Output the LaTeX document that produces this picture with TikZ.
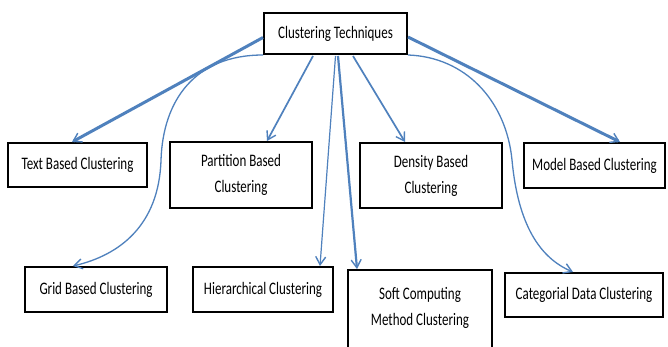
\documentclass[tikz,border=0pt]{standalone}
\usepackage{fontspec}
\setmainfont{Carlito}
\usetikzlibrary{arrows.meta,calc}
\definecolor{arrblue}{RGB}{79,129,189}
\newcommand{\tallt}[1]{\scalebox{1}[1.35]{#1}}
\tikzset{
  box/.style={draw=black, line width=2pt, fill=white, inner sep=0pt, align=center,
    font=\fontsize{13}{26}\selectfont},
  conn/.style={draw=arrblue, -{Straight Barb[length=8pt,width=10pt,line width=1.4pt]}},
  thick conn/.style={conn, line width=3pt},
  mid conn/.style={conn, line width=1.7pt},
  thin conn/.style={conn, line width=1.2pt},
}
\begin{document}
\begin{tikzpicture}[x=1pt,y=-1pt]
\useasboundingbox[fill=white] (0,0) rectangle (668,347);
\node[box, minimum width=143pt, minimum height=41pt] (ct) at (335.5,33.5) {\tallt{Clustering Techniques}};
\node[box, minimum width=139pt, minimum height=44pt] (tb) at (77.5,165) {\tallt{Text Based Clustering}};
\node[box, minimum width=142pt, minimum height=66pt] (pb) at (241,175) {\tallt{Partition Based}\\\tallt{Clustering}};
\node[box, minimum width=142pt, minimum height=65pt] (db) at (431,175.5) {\tallt{Density Based}\\\tallt{Clustering}};
\node[box, minimum width=141pt, minimum height=45pt] (mb) at (594.5,165.5) {\tallt{Model Based Clustering}};
\node[box, minimum width=142pt, minimum height=45pt] (gb) at (96,289.5) {\tallt{Grid Based Clustering}};
\node[box, minimum width=140pt, minimum height=45pt] (hc) at (263,289.5) {\tallt{Hierarchical Clustering}};
\node[box, minimum width=144pt, minimum height=84pt] (sc) at (420,312) {\tallt{Soft Computing}\\\tallt{Method Clustering}\\[-14pt]};
\node[box, minimum width=158pt, minimum height=44pt] (cd) at (584,295) {\tallt{Categorial Data Clustering}};

\draw[thick conn] ($(ct.west)+(0,4)$) -- ($(tb.north)+(-5.5,0)$);
\draw[thick conn] ($(ct.east)+(0,3.5)$) -- ($(mb.north)+(25.5,0)$);
\draw[mid conn] ($(ct.south)+(-22.5,1)$) -- ($(pb.north)+(26,0)$);
\draw[mid conn] ($(ct.south)+(17.5,1)$) -- ($(db.north)+(-26,0)$);
\draw[thin conn] ($(ct.south)+(0,1)$) -- ($(hc.north)+(57,0)$);
\draw[conn, line width=2.2pt] ($(ct.south)+(2.5,1)$) -- ($(sc.north)+(-63,0)$);
\draw[thin conn, line width=1.3pt] (ct.south west) .. controls (195,55) and (163,100) .. (161,160)
  .. controls (159,225) and (120,255) .. ($(gb.north)+(-23,0)$);
\draw[thin conn, line width=1.3pt] (ct.south east) .. controls (465,57) and (506,100) .. (512,160)
  .. controls (518,225) and (540,258) .. ($(cd.north)+(-11,0)$);
\end{tikzpicture}
\end{document}
